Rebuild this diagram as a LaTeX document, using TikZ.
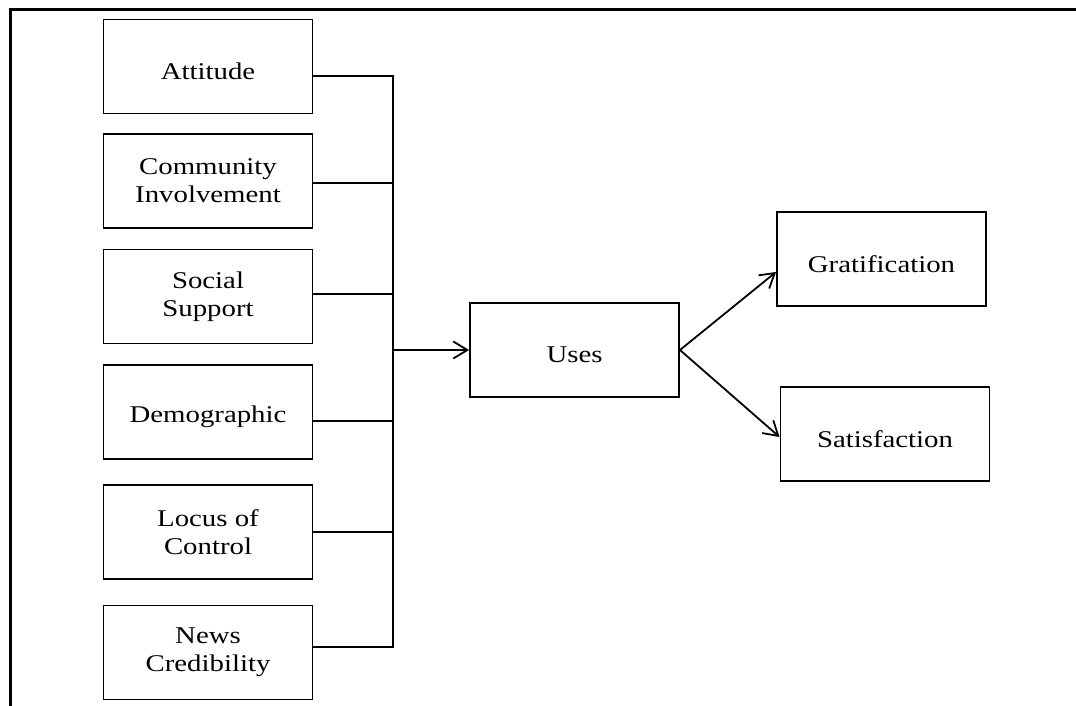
\documentclass[tikz,border=0pt]{standalone}
\usepackage{fontspec}
\setmainfont{Liberation Serif}[FakeStretch=1.2]
\usetikzlibrary{arrows.meta}
\newcommand{\lowtxt}[1]{\raisebox{-5pt}[\height][\depth]{#1}}
\begin{document}
\begin{tikzpicture}[x=1pt,y=-1pt,
  box/.style={draw, line width=1.9pt, minimum width=209pt, minimum height=94pt,
    inner sep=0pt, align=center, font=\fontsize{24}{28}\selectfont},
  conn/.style={line width=1.8pt},
  arr/.style={line width=1.8pt, -{Straight Barb[length=14pt,width=17pt,line width=1.8pt]}}]
\useasboundingbox (0,0) rectangle (1076,706);
\draw[line width=3pt, line join=miter] (10.5,706) -- (10.5,10) -- (1076,10);

\node[box] (att) at (208,66.5) {\lowtxt{Attitude}};
\node[box] (com) at (208,181) {Community\\Involvement};
\node[box] (soc) at (208,296.5) {Social\\Support};
\node[box] (dem) at (208,412) {\lowtxt{Demographic}};
\node[box] (loc) at (208,532) {Locus of\\Control};
\node[box] (news) at (208,652.5) {News\\Credibility};

\node[box] (uses) at (574.5,350) {\lowtxt{Uses}};
\node[box] (grat) at (881.5,259) {\lowtxt{Gratification}};
\node[box] (sat) at (885,434) {\lowtxt{Satisfaction}};

\coordinate (bus) at (393,0);

\draw[conn] ([yshift=-9.5pt]att.east) -- ([yshift=-9.5pt]att.east -| bus);
\draw[conn] ([yshift=-2pt]com.east) -- ([yshift=-2pt]com.east -| bus);
\draw[conn] ([yshift=2.5pt]soc.east) -- ([yshift=2.5pt]soc.east -| bus);
\draw[conn] ([yshift=-9pt]dem.east) -- ([yshift=-9pt]dem.east -| bus);
\draw[conn] (loc.east) -- (loc.east -| bus);
\draw[conn] ([yshift=5.5pt]news.east) -- ([yshift=5.5pt]news.east -| bus);
\draw[conn, line cap=rect] ([yshift=-9.5pt]att.east -| bus) -- ([yshift=5.5pt]news.east -| bus);

\draw[arr] (uses.west -| bus) -- (uses.west);
\draw[arr] (uses.east) -- ([yshift=-13pt]grat.west);
\draw[arr] (uses.east) -- ([yshift=-3pt]sat.west);
\end{tikzpicture}
\end{document}
